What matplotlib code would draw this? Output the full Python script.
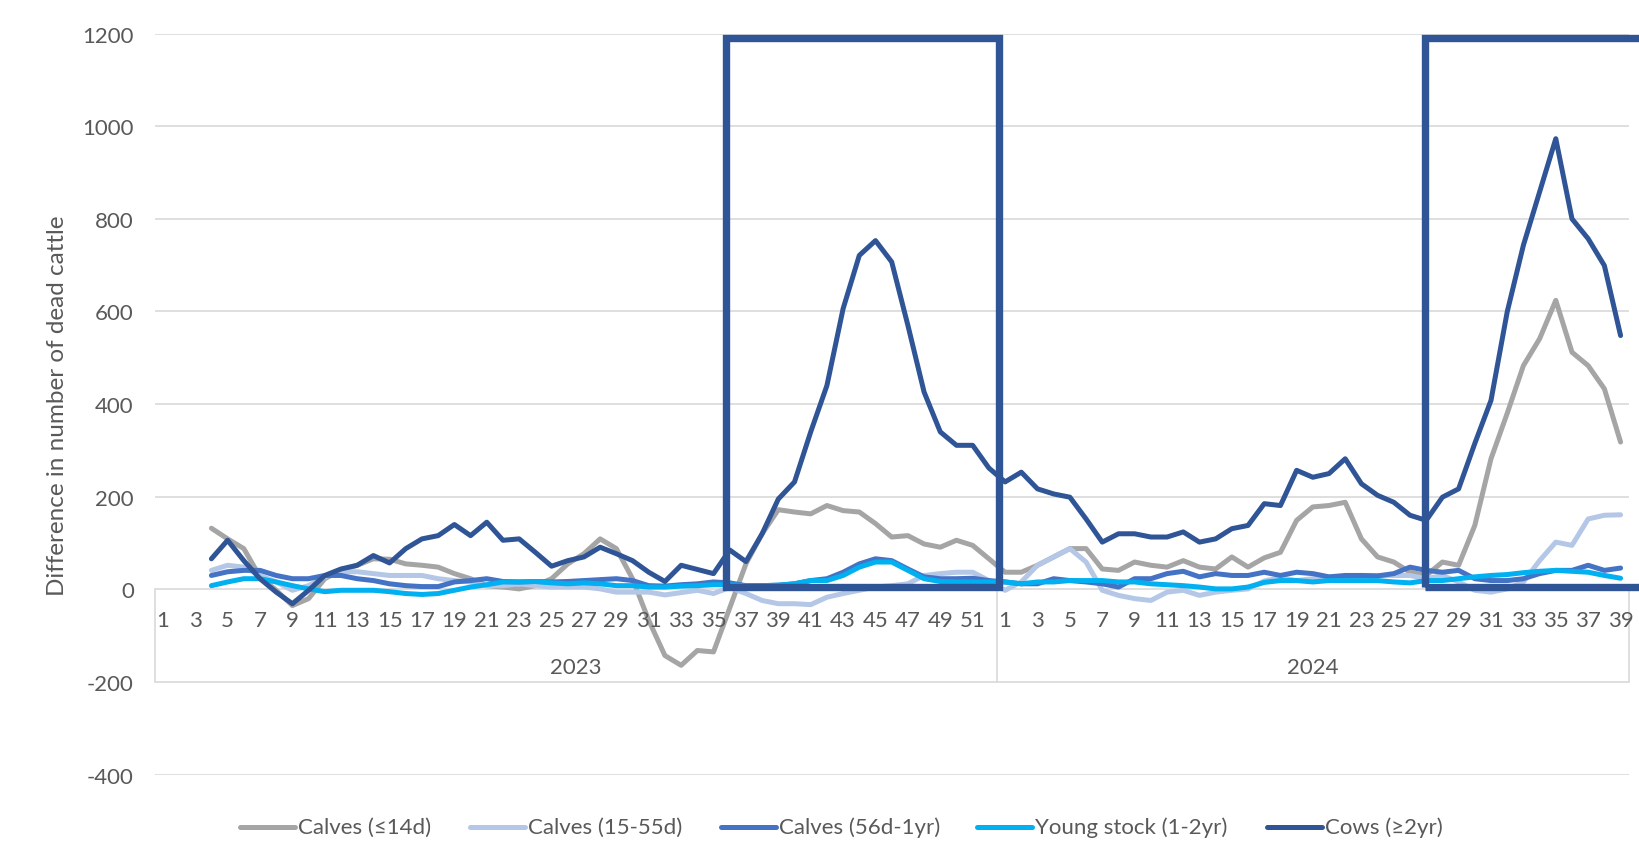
import matplotlib
matplotlib.use("Agg")

import matplotlib.pyplot as plt
from matplotlib.patches import Rectangle
from matplotlib.lines import Line2D
from matplotlib.transforms import offset_copy

plt.rcParams['font.family'] = ['Lato', 'DejaVu Sans']
plt.rcParams['axes.unicode_minus'] = False

# weekly differences in number of dead cattle, 2023 wk 4 .. 2024 wk 39
weeks_2023 = list(range(4, 53))
weeks_2024 = list(range(1, 40))

calves_14d_2023 = [132, 109, 88, 27, -2, -35, -20, 23, 41, 52, 66, 65, 55, 52, 48, 34, 23, 8, 5, 1,
                   8, 23, 55, 77, 109, 88, 23, -67, -143, -164, -132, -135, -40, 55, 120, 172, 167, 163,
                   181, 170, 167, 142, 113, 116, 98, 91, 106, 95, 66]
calves_14d_2024 = [37, 37, 52, 70, 88, 88, 44, 41, 59, 52, 48, 62, 48, 44, 70, 48, 68, 80, 149, 178,
                   181, 188, 109, 70, 59, 37, 30, 59, 52, 138, 282, 380, 483, 541, 624, 512, 483, 433, 318]

calves_15_55_2023 = [41, 52, 48, 30, 16, -2, 8, 27, 38, 38, 34, 30, 30, 30, 23, 19, 16, 8, 8, 12,
                     8, 5, 5, 5, 1, -6, -6, -6, -12, -7, -2, -9, 4, -9, -24, -31, -31, -33, -17, -9,
                     -2, 5, 8, 12, 30, 34, 37, 37, 19]
calves_15_55_2024 = [-2, 16, 52, 70, 88, 59, -2, -13, -20, -24, -6, -2, -13, -6, -2, 1, 18, 25, 19, 23,
                     27, 27, 30, 30, 30, 30, 23, 30, 16, -2, -6, 1, 16, 62, 102, 95, 152, 160, 161]

calves_56d_2023 = [30, 38, 41, 41, 30, 23, 23, 30, 30, 23, 19, 12, 8, 6, 6, 16, 19, 23, 17, 16,
                   17, 16, 17, 19, 21, 23, 19, 8, 7, 10, 12, 16, 14, 8, 8, 9, 12, 19, 23, 37,
                   55, 66, 62, 44, 27, 23, 23, 24, 19]
calves_56d_2024 = [16, 12, 12, 23, 19, 16, 12, 5, 23, 23, 34, 39, 27, 34, 30, 30, 37, 30, 37, 34,
                   27, 30, 30, 29, 34, 48, 41, 37, 41, 23, 19, 19, 23, 34, 41, 41, 52, 41, 46]

young_2023 = [8, 16, 23, 23, 16, 8, 1, -5, -2, -2, -2, -5, -9, -11, -9, -2, 5, 10, 16, 16,
              17, 14, 12, 14, 12, 8, 8, 5, 5, 7, 8, 10, 10, 8, 8, 9, 12, 19, 19, 30,
              48, 59, 59, 41, 23, 17, 16, 16, 16]
young_2024 = [16, 12, 16, 16, 19, 19, 19, 16, 16, 12, 10, 8, 5, 1, 1, 5, 15, 19, 19, 16,
              19, 19, 19, 19, 16, 14, 19, 19, 23, 27, 30, 32, 36, 39, 41, 39, 37, 30, 24]

cows_2023 = [66, 106, 62, 23, -6, -31, -2, 30, 44, 52, 73, 57, 88, 109, 116, 140, 116, 145, 106, 109,
             80, 50, 62, 70, 91, 77, 62, 37, 17, 52, 43, 34, 85, 60, 120, 195, 232, 340, 440, 606,
             721, 753, 707, 570, 426, 340, 311, 311, 262]
cows_2024 = [232, 253, 217, 206, 199, 152, 102, 120, 120, 113, 113, 124, 102, 109, 131, 138, 185, 181, 257, 242,
             250, 282, 228, 203, 188, 160, 149, 199, 217, 315, 408, 599, 743, 858, 973, 800, 757, 699, 548]

labels = ["Calves (\u226414d)", "Calves (15-55d)", "Calves (56d-1yr)", "Young stock (1-2yr)", "Cows (\u22652yr)"]
colors = ["#A5A5A5", "#B4C7E7", "#4472C4", "#00B0F0", "#2F5597"]
series = [calves_14d_2023 + calves_14d_2024,
          calves_15_55_2023 + calves_15_55_2024,
          calves_56d_2023 + calves_56d_2024,
          young_2023 + young_2024,
          cows_2023 + cows_2024]

# category axis: 52 weeks of 2023 followed by 39 weeks of 2024
n2023, n2024 = 52, 39
xpos = [w - 1 for w in weeks_2023] + [n2023 + k - 1 for k in weeks_2024]

txt = "#595959"
grid = "#D9D9D9"
fs = 16

fig = plt.figure(figsize=(16.39, 8.62), dpi=100)
ax = fig.add_axes([0.0944, 0.1002, 0.8993, 0.8597])

for vals, lab, col in zip(series, labels, colors):
    ax.plot(xpos, vals, color=col, lw=3.6, label=lab,
            solid_joinstyle="round", solid_capstyle="round", zorder=3)

ax.set_xlim(-0.5, n2023 + n2024 - 0.5)
ax.set_ylim(-400, 1200)
ax.set_yticks(range(-400, 1201, 200))
ax.yaxis.grid(True, color=grid, lw=1.2)
ax.set_axisbelow(True)
ax.set_xticks([])
for s in ax.spines.values():
    s.set_visible(False)
ax.tick_params(axis="y", length=0, pad=15, labelsize=fs, labelcolor=txt)

# multi-level category labels hanging under the zero line
tick_tr = offset_copy(ax.transData, fig=fig, y=-31, units="dots")
year_tr = offset_copy(ax.transData, fig=fig, y=-78, units="dots")
for w in range(1, n2023 + 1, 2):
    ax.text(w - 1, 0, str(w), transform=tick_tr, ha="center", va="center", fontsize=fs, color=txt)
for k in range(1, n2024 + 1, 2):
    ax.text(n2023 + k - 1, 0, str(k), transform=tick_tr, ha="center", va="center", fontsize=fs, color=txt)
ax.text((n2023 - 1) / 2, 0, "2023", transform=year_tr, ha="center", va="center", fontsize=fs, color=txt)
ax.text(n2023 + (n2024 - 1) / 2, 0, "2024", transform=year_tr, ha="center", va="center", fontsize=fs, color=txt)
for xb in [-0.5, n2023 - 0.5, n2023 + n2024 - 0.5]:
    ax.plot([xb, xb], [0, -200], color=grid, lw=1.2, zorder=1, clip_on=False)

# highlighted outbreak periods
box_kw = dict(fill=False, edgecolor="#2F5597", lw=5.3, zorder=5, clip_on=False, joinstyle="miter")
ax.add_patch(Rectangle((34.8, 5), 51.6 - 34.8, 1185, **box_kw))
ax.add_patch(Rectangle((77.9, 5), 91.5 - 77.9, 1185, **box_kw))

fig.text(58 / 1639, 0.529, "Difference in number of dead cattle", rotation=90,
         ha="center", va="center", fontsize=17.5, color=txt)

# legend row along the bottom
leg_x = [240, 470, 721, 977, 1267]
leg_y = 1 - 828 / 862
for x0, lab, col in zip(leg_x, labels, colors):
    fig.add_artist(Line2D([x0 / 1639, (x0 + 55) / 1639], [leg_y, leg_y], color=col, lw=3.6,
                          solid_capstyle="round"))
    fig.text((x0 + 58) / 1639, leg_y, lab, ha="left", va="center", fontsize=fs, color=txt)

fig.savefig("out.png", dpi=100)
